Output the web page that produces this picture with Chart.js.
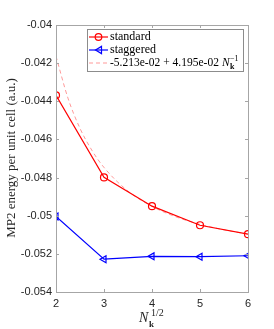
<!DOCTYPE html>
<html>
<head>
<meta charset="utf-8">
<script src="https://cdn.jsdelivr.net/npm/chart.js@4"></script>
<style>
  html, body { margin: 0; padding: 0; background: #fff; }
  #wrap { width: 274px; height: 329px; position: relative; }
</style>
</head>
<body>
<div id="wrap"><canvas id="c" width="274" height="329"></canvas></div>
<script>
// data
const nk = [2, 3, 4, 5, 6];
const standard = [-0.04369, -0.04799, -0.0495, -0.0505, -0.05097];
const staggered = [-0.05004, -0.05228, -0.05213, -0.05215, -0.0521];
const fitX = [2, 2.25, 2.5, 2.75, 3, 3.5, 4, 4.5, 5, 5.5, 6];
const fitY = [-0.04164, -0.04384, -0.04542, -0.04658, -0.04747, -0.04871, -0.04951, -0.05006, -0.05045, -0.05074, -0.05096];
const yTicks = [-0.054, -0.052, -0.05, -0.048, -0.046, -0.044, -0.042, -0.04];
const fitParts = ['-5.213e-02', '+', '4.195e-02'];

const pts = (xs, ys) => xs.map((x, i) => ({x: x, y: ys[i]}));
const SERIF = '"Liberation Serif", "DejaVu Serif", serif';
const SANS = '"Liberation Sans", Arial, sans-serif';
const AX = '#a6a6a6';

// box, inner ticks, legend and axis titles
const decor = {
  id: 'decor',
  afterDraw(chart) {
    const ctx = chart.ctx, a = chart.chartArea;
    const xs = chart.scales.x, ys = chart.scales.y;
    ctx.save();
    ctx.strokeStyle = AX;
    ctx.lineWidth = 1;
    ctx.strokeRect(Math.round(a.left) + 0.5, Math.round(a.top) + 0.5,
      Math.round(a.right - a.left), Math.round(a.bottom - a.top));
    ctx.beginPath();
    nk.forEach(v => {
      const px = Math.round(xs.getPixelForValue(v)) + 0.5;
      ctx.moveTo(px, a.bottom); ctx.lineTo(px, a.bottom - 3);
      ctx.moveTo(px, a.top); ctx.lineTo(px, a.top + 3);
    });
    yTicks.forEach(v => {
      const py = Math.round(ys.getPixelForValue(v)) + 0.5;
      ctx.moveTo(a.left, py); ctx.lineTo(a.left + 3, py);
      ctx.moveTo(a.right, py); ctx.lineTo(a.right - 3, py);
    });
    ctx.stroke();

    // legend
    const lx = 87, ly = 29, lw = 156, lh = 42;
    ctx.fillStyle = '#fff';
    ctx.fillRect(lx, ly, lw, lh);
    ctx.strokeStyle = '#8c8c8c';
    ctx.strokeRect(lx + 0.5, ly + 0.5, lw, lh);
    const rows = [ly + 8, ly + 21, ly + 34];
    ctx.lineWidth = 1.2;
    // standard
    ctx.strokeStyle = '#ff0000';
    ctx.beginPath(); ctx.moveTo(89, rows[0]); ctx.lineTo(108, rows[0]); ctx.stroke();
    ctx.beginPath(); ctx.arc(98.5, rows[0], 3.3, 0, Math.PI * 2); ctx.stroke();
    // staggered
    ctx.strokeStyle = '#0000ff';
    ctx.beginPath(); ctx.moveTo(89, rows[1]); ctx.lineTo(108, rows[1]); ctx.stroke();
    ctx.beginPath();
    ctx.moveTo(95.5, rows[1]); ctx.lineTo(101.5, rows[1] - 3.6); ctx.lineTo(101.5, rows[1] + 3.6); ctx.closePath();
    ctx.stroke();
    // fit
    ctx.strokeStyle = 'rgba(255,0,0,0.45)';
    ctx.lineWidth = 0.9;
    ctx.setLineDash([4, 3]);
    ctx.beginPath(); ctx.moveTo(89, rows[2]); ctx.lineTo(108, rows[2]); ctx.stroke();
    ctx.setLineDash([]);

    ctx.fillStyle = '#000';
    ctx.textBaseline = 'middle';
    ctx.textAlign = 'left';
    ctx.font = '12px ' + SERIF;
    ctx.fillText('standard', 110, rows[0]);
    ctx.fillText('staggered', 110, rows[1]);
    ctx.font = '11.5px ' + SERIF;
    let tx = 110;
    fitParts.forEach(p => {
      ctx.fillText(p, tx, rows[2]);
      tx += ctx.measureText(p).width + 3;
    });
    ctx.font = 'italic 11.5px ' + SERIF;
    ctx.fillText('N', tx, rows[2]);
    tx += ctx.measureText('N').width + 0.5;
    ctx.font = 'bold 8px ' + SERIF;
    ctx.fillText('k', tx, rows[2] + 3.5);
    ctx.font = '8px ' + SERIF;
    ctx.fillText('\u22121', tx, rows[2] - 4);

    // x title
    ctx.fillStyle = '#262626';
    ctx.font = 'italic 14px ' + SERIF;
    ctx.textBaseline = 'alphabetic';
    ctx.fillText('N', 139, 322);
    ctx.font = 'bold 9px ' + SERIF;
    ctx.fillText('k', 149, 327);
    ctx.font = '10px ' + SERIF;
    ctx.fillText('1/2', 151, 316);

    // y title
    ctx.translate(15, 158);
    ctx.rotate(-Math.PI / 2);
    ctx.textAlign = 'center';
    ctx.font = '13px ' + SERIF;
    ctx.fillText('MP2 energy per unit cell (a.u.)', 0, 0);
    ctx.restore();
  }
};

new Chart(document.getElementById('c'), {
  type: 'line',
  data: {
    datasets: [
      {
        label: 'fit',
        data: pts(fitX, fitY),
        borderColor: 'rgba(255,0,0,0.45)',
        borderWidth: 0.9,
        borderDash: [4, 3],
        pointRadius: 0,
        cubicInterpolationMode: 'monotone',
        fill: false
      },
      {
        label: 'standard',
        data: pts(nk, standard),
        borderColor: '#ff0000',
        borderWidth: 1.2,
        pointStyle: 'circle',
        pointRadius: 3.5,
        pointBorderWidth: 1.2,
        pointBorderColor: '#ff0000',
        pointBackgroundColor: 'rgba(0,0,0,0)',
        fill: false
      },
      {
        label: 'staggered',
        data: pts(nk, staggered),
        borderColor: '#0000ff',
        borderWidth: 1.2,
        pointStyle: 'triangle',
        pointRotation: -90,
        pointRadius: 4,
        pointBorderWidth: 1.2,
        pointBorderColor: '#0000ff',
        pointBackgroundColor: 'rgba(0,0,0,0)',
        fill: false
      }
    ]
  },
  options: {
    responsive: false,
    animation: false,
    layout: { padding: { top: 25, right: 26, left: 0, bottom: 0 } },
    plugins: { legend: { display: false }, tooltip: { enabled: false } },
    scales: {
      x: {
        type: 'linear', min: 2, max: 6,
        afterFit: s => { s.height = 37; },
        afterBuildTicks: s => { s.ticks = nk.map(v => ({value: v})); },
        grid: { display: false, drawTicks: false },
        border: { display: false },
        ticks: { padding: 5, color: '#262626', font: { family: SANS, size: 11 } }
      },
      y: {
        type: 'linear', min: -0.054, max: -0.04,
        afterFit: s => { s.width = 56; },
        afterBuildTicks: s => { s.ticks = yTicks.map(v => ({value: v})); },
        grid: { display: false, drawTicks: false },
        border: { display: false },
        ticks: {
          padding: 4, color: '#262626', font: { family: SANS, size: 11 },
          callback: v => String(parseFloat(v.toFixed(3)))
        }
      }
    }
  },
  plugins: [decor]
});
</script>
</body>
</html>
